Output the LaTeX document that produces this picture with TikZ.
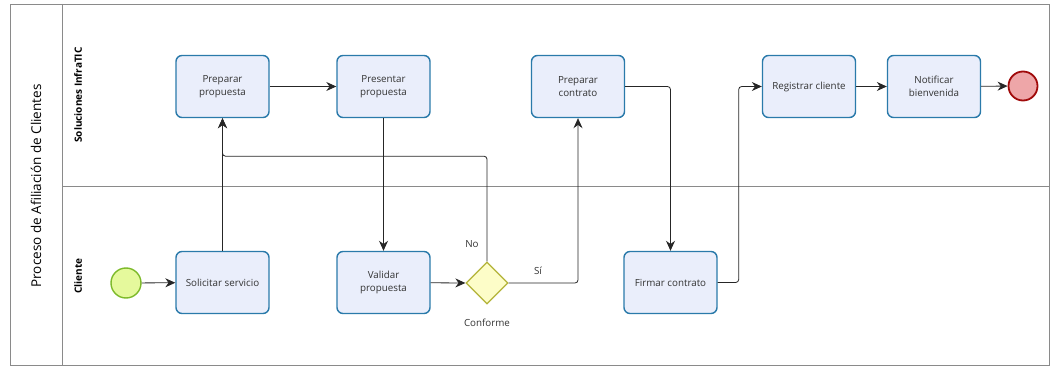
\documentclass[tikz,border=0pt]{standalone}
\usepackage{fontspec}
\setmainfont{Open Sans}
\usetikzlibrary{shapes.geometric,arrows.meta,calc}
\definecolor{taskfill}{HTML}{EAEEFB}
\definecolor{taskline}{HTML}{2A7AAA}
\definecolor{startfill}{HTML}{E5F99C}
\definecolor{startline}{HTML}{7DBA2A}
\definecolor{endfill}{HTML}{EEA6A8}
\definecolor{endline}{HTML}{A00A0A}
\definecolor{gwfill}{HTML}{FDFDC8}
\definecolor{gwline}{HTML}{B3B338}
\definecolor{txt}{HTML}{333333}
\definecolor{frame}{HTML}{8A8A8A}
\tikzset{
  task/.style={draw=taskline, fill=taskfill, line width=1.4pt, rounded corners=6pt,
    minimum width=93pt, minimum height=62pt, align=center, text=txt,
    font=\fontsize{9.8}{13.5}\selectfont, inner sep=2pt},
  startev/.style={circle, draw=startline, fill=startfill, line width=1.4pt, minimum size=30pt, inner sep=0pt},
  endev/.style={circle, draw=endline, fill=endfill, line width=1.8pt, minimum size=29pt, inner sep=0pt},
  gateway/.style={diamond, draw=gwline, fill=gwfill, line width=1.3pt, minimum size=42pt, inner sep=0pt},
  flow/.style={draw=black!85, line width=0.8pt, rounded corners=3pt, -{Stealth[length=10pt,width=9pt]}},
  lbl/.style={text=txt, font=\fontsize{9.8}{12}\selectfont},
  lane/.style={rotate=90, font=\bfseries\fontsize{10}{12}\selectfont, text=black},
  pool/.style={rotate=90, font=\fontsize{13.5}{16}\selectfont, text=black},
}
\begin{document}
\begin{tikzpicture}[x=1pt,y=-1pt]
\useasboundingbox (0,0) rectangle (1050,366);
% pool and lanes
\draw[frame, line width=0.9pt] (10,4) rectangle (1049,365);
\draw[frame, line width=0.9pt] (62,4) -- (62,365);
\draw[frame, line width=0.9pt] (62,186) -- (1049,186);
\node[pool] (pooltitle) at (36,186) {Proceso de Afiliación de Clientes};
\node[lane] (lane1) at (78,95) {Soluciones InfraTIC};
\node[lane] (lane2) at (78,276) {Cliente};

% events, tasks, gateway
\node[startev] (start) at (126,283) {};
\node[task] (solic) at (222.5,282.5) {Solicitar servicio};
\node[task] (prep) at (222.5,86.5) {Preparar\\propuesta};
\node[task] (pres) at (383.5,86.5) {Presentar\\propuesta};
\node[task] (valid) at (383.5,282.5) {Validar\\propuesta};
\node[gateway] (gw) at (487,283) {};
\node[task] (pcon) at (578,86.5) {Preparar\\contrato};
\node[task] (firm) at (670.5,282.5) {Firmar contrato};
\node[task] (reg) at (809,86.5) {Registrar cliente};
\node[task] (notif) at (934,86.5) {Notificar\\bienvenida};
\node[endev] (end) at (1023,86) {};

% labels
\node[lbl] (lno) at (472,244) {No};
\node[lbl] (lsi) at (538,271) {Sí};
\node[lbl] (lconf) at (487,323) {Conforme};

% sequence flows
\draw[flow] (start) -- (solic);
\draw[flow] (solic.north) -- (prep.south);
\draw[flow] (prep) -- (pres);
\draw[flow] (pres.south) -- (valid.north);
\draw[flow] (valid) -- (gw.west);
\draw[flow] (gw.north) |- ([yshift=-38pt]prep.south) -- (prep.south);
\draw[flow] (gw.east) -| (pcon.south);
\draw[flow] (pcon.east) -| (firm.north);
\draw[flow] (firm.east) -- ++(21,0) |- (reg.west);
\draw[flow] (reg) -- (notif);
\draw[flow] (notif) -- (end);
\end{tikzpicture}
\end{document}
